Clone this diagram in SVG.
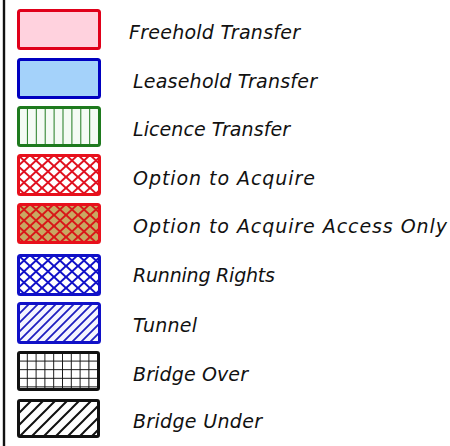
<svg xmlns="http://www.w3.org/2000/svg" width="450" height="446" viewBox="0 0 450 446">
<defs>
<style>
.lbl{font-family:"DejaVu Sans","Liberation Sans",sans-serif;font-style:italic;font-size:19px;fill:#111;}
.box{stroke-width:3;stroke-linejoin:round;}
</style>
<pattern id="vert" patternUnits="userSpaceOnUse" width="8.9" height="10" x="18" y="0">
<line x1="0" y1="0" x2="0" y2="10" stroke="#1e7a1e" stroke-width="2"/>
</pattern>
<pattern id="xred" patternUnits="userSpaceOnUse" width="12" height="11" x="18" y="155">
<path d="M-1,12 L13,-1 M-1,-1 L13,12" stroke="#e01020" stroke-width="2"/>
</pattern>
<pattern id="xred2" patternUnits="userSpaceOnUse" width="12" height="11" x="18" y="204">
<path d="M-1,12 L13,-1 M-1,-1 L13,12" stroke="#d81818" stroke-width="2"/>
</pattern>
<pattern id="xblue" patternUnits="userSpaceOnUse" width="12" height="11" x="18" y="255">
<path d="M-1,12 L13,-1 M-1,-1 L13,12" stroke="#1010c8" stroke-width="2"/>
</pattern>
<pattern id="dblue" patternUnits="userSpaceOnUse" width="9" height="9">
<path d="M-1,10 L10,-1 M-1,1 L1,-1 M8,10 L10,8" stroke="#2020c0" stroke-width="1.8"/>
</pattern>
<pattern id="dblack" patternUnits="userSpaceOnUse" width="12" height="12">
<path d="M-1,13 L13,-1 M-1,1 L1,-1 M11,13 L13,11" stroke="#111" stroke-width="2"/>
</pattern>
<pattern id="grid" patternUnits="userSpaceOnUse" width="8.8" height="8.6" x="18" y="352">
<path d="M0,0 L0,8.6 M0,0 L8.8,0" stroke="#111" stroke-width="1.9" fill="none"/>
</pattern>
</defs>
<rect width="450" height="446" fill="#fff"/>
<line x1="4" y1="0" x2="4" y2="446" stroke="#111" stroke-width="2.4"/>

<g id="freehold">
<rect class="box" x="18.5" y="10.5" width="81" height="38" rx="2" fill="#ffd2de" stroke="#e0001a"/>
<text class="lbl" x="129" y="39" textLength="171" lengthAdjust="spacing">Freehold Transfer</text>
</g>
<g id="leasehold">
<rect class="box" x="18.5" y="59.5" width="81" height="38" rx="2" fill="#a4d2fa" stroke="#0000c0"/>
<text class="lbl" x="133" y="88" textLength="184" lengthAdjust="spacing">Leasehold Transfer</text>
</g>
<g id="licence">
<rect x="18.5" y="107.5" width="81" height="38" fill="#f4fbf4"/>
<rect x="18.5" y="107.5" width="81" height="38" fill="url(#vert)"/>
<rect class="box" x="18.5" y="107.5" width="81" height="38" rx="2" fill="none" stroke="#1e7a1e"/>
<text class="lbl" x="133" y="136" textLength="157" lengthAdjust="spacing">Licence Transfer</text>
</g>
<g id="option">
<rect x="18.5" y="155.5" width="81" height="39" fill="#fff"/>
<rect x="18.5" y="155.5" width="81" height="39" fill="url(#xred)"/>
<rect class="box" x="18.5" y="155.5" width="81" height="39" rx="2" fill="none" stroke="#e8101c"/>
<text class="lbl" x="133" y="185" textLength="182" lengthAdjust="spacing">Option to Acquire</text>
</g>
<g id="option-access">
<rect x="18.5" y="204.5" width="81" height="38" fill="#c8a862"/>
<rect x="18.5" y="204.5" width="81" height="38" fill="url(#xred2)"/>
<rect class="box" x="18.5" y="204.5" width="81" height="38" rx="2" fill="none" stroke="#e8101c"/>
<text class="lbl" x="133" y="233" textLength="314" lengthAdjust="spacing">Option to Acquire Access Only</text>
</g>
<g id="running">
<rect x="18.5" y="255.5" width="81" height="39" fill="#fff"/>
<rect x="18.5" y="255.5" width="81" height="39" fill="url(#xblue)"/>
<rect class="box" x="18.5" y="255.5" width="81" height="39" rx="2" fill="none" stroke="#1010c8"/>
<text class="lbl" x="133" y="282" textLength="142" lengthAdjust="spacing">Running Rights</text>
</g>
<g id="tunnel">
<rect x="18.5" y="303.5" width="81" height="39" fill="#f6f6ff"/>
<rect x="18.5" y="303.5" width="81" height="39" fill="url(#dblue)"/>
<rect class="box" x="18.5" y="303.5" width="81" height="39" rx="2" fill="none" stroke="#1010c8"/>
<text class="lbl" x="133" y="332" textLength="64" lengthAdjust="spacing">Tunnel</text>
</g>
<g id="bridge-over">
<rect x="18.5" y="352.5" width="80" height="37" fill="#fff"/>
<rect x="18.5" y="352.5" width="80" height="37" fill="url(#grid)"/>
<rect class="box" x="18.5" y="352.5" width="80" height="37" rx="1.5" fill="none" stroke="#111"/>
<text class="lbl" x="133" y="381" textLength="115" lengthAdjust="spacing">Bridge Over</text>
</g>
<g id="bridge-under">
<rect x="18.5" y="400.5" width="80" height="36" fill="#fff"/>
<rect x="18.5" y="400.5" width="80" height="36" fill="url(#dblack)"/>
<rect class="box" x="18.5" y="400.5" width="80" height="36" rx="1.5" fill="none" stroke="#111"/>
<text class="lbl" x="133" y="428" textLength="129" lengthAdjust="spacing">Bridge Under</text>
</g>
</svg>
